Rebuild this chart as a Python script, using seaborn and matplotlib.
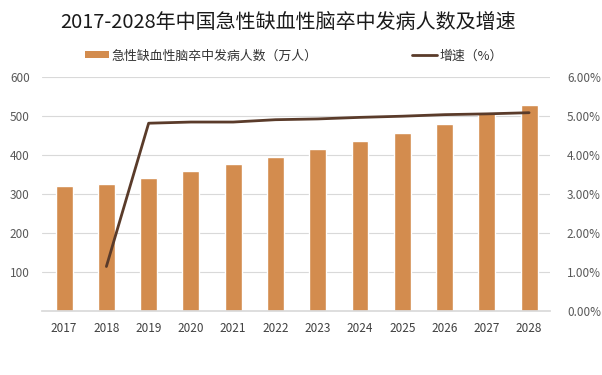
import matplotlib
matplotlib.use("Agg")
import matplotlib.pyplot as plt
import seaborn as sns
import numpy as np
import pandas as pd
from matplotlib.patches import Patch
from matplotlib.lines import Line2D

years = ["2017", "2018", "2019", "2020", "2021", "2022", "2023",
         "2024", "2025", "2026", "2027", "2028"]
cases = [320, 326, 341, 357, 375, 394, 414, 435, 456, 479, 506, 528]
growth = [np.nan, 1.13, 4.81, 4.84, 4.84, 4.90, 4.92, 4.96, 4.99, 5.03, 5.05, 5.08]
left_ticks = [100, 200, 300, 400, 500, 600]
right_ticks = [0, 1, 2, 3, 4, 5, 6]

title = "2017-2028年中国急性缺血性脑卒中发病人数及增速"
bar_label = "急性缺血性脑卒中发病人数（万人）"
line_label = "增速（%）"

bar_color = "#D38C4E"
line_color = "#5A3B2A"
tick_color = "#595959"

sns.set_theme(style="white")
plt.rcParams["font.family"] = ["Noto Sans CJK SC", "DejaVu Sans"]

df = pd.DataFrame({"year": years, "cases": cases, "growth": growth})

fig = plt.figure(figsize=(6.02, 3.75), dpi=100)
ax = fig.add_axes([0.070, 0.172, 0.844, 0.623])

sns.barplot(data=df, x="year", y="cases", color=bar_color, width=0.4,
            saturation=1, ax=ax, zorder=2)
ax.set_ylim(0, 600)
ax.set_xlim(-0.52, 11.5)
ax.set_yticks(left_ticks)
ax.yaxis.grid(True, color="#d9d9d9", linewidth=0.8, zorder=0)
ax.set_axisbelow(True)
ax.set_xlabel("")
ax.set_ylabel("")
for s in ["top", "right", "left"]:
    ax.spines[s].set_visible(False)
ax.spines["bottom"].set_color("#d9d9d9")
ax.tick_params(axis="y", colors=tick_color, labelsize=8.5, length=0, pad=9)
ax.tick_params(axis="x", colors="#404040", labelsize=8.5, length=0, pad=8)

ax2 = ax.twinx()
df["pos"] = np.arange(len(years))
sns.lineplot(data=df, x="pos", y="growth", color=line_color, linewidth=2,
             ax=ax2, zorder=3)
ax2.set_ylim(0, 6)
ax2.set_yticks(right_ticks)
ax2.set_yticklabels([f"{v:.2f}%" for v in right_ticks])
ax2.set_xlim(-0.52, 11.5)
ax2.set_ylabel("")
ax2.set_xlabel("")
for s in ["top", "right", "left", "bottom"]:
    ax2.spines[s].set_visible(False)
ax2.tick_params(axis="y", colors=tick_color, labelsize=8.5, length=0, pad=12)
ax2.grid(False)

fig.text(0.479, 0.94, title, ha="center", va="center", fontsize=14.4,
         color="#1a1a1a")

handles = [Patch(facecolor=bar_color, edgecolor="none"),
           Line2D([0], [0], color=line_color, linewidth=2)]
fig.legend(handles, [bar_label, line_label], loc="center",
           bbox_to_anchor=(0.488, 0.851), ncol=2, frameon=False,
           fontsize=9.3, handlelength=1.9, handleheight=0.5,
           handletextpad=0.2, columnspacing=7.3, labelcolor="#333333")

fig.savefig("out.png", dpi=100)
